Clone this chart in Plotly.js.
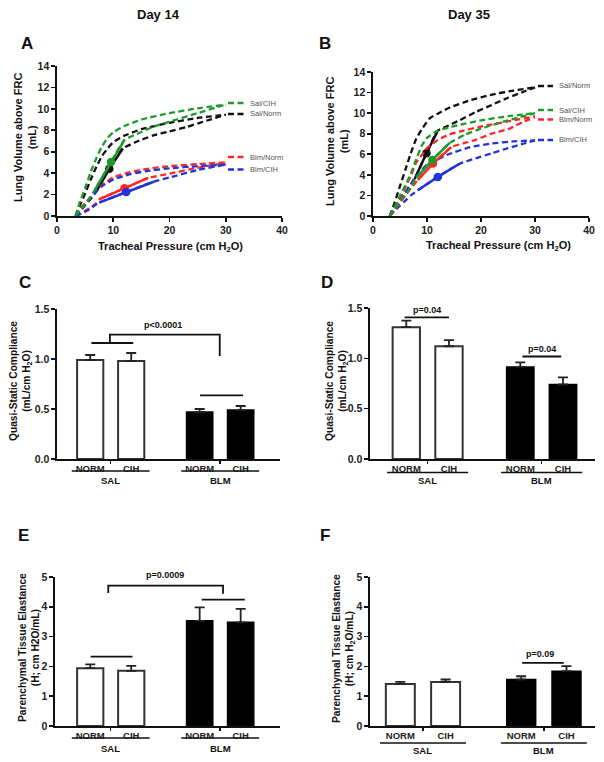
<!DOCTYPE html>
<html>
<head>
<meta charset="utf-8">
<script src="https://cdn.plot.ly/plotly-3.0.1.min.js"></script>
<style>html,body{margin:0;padding:0;background:#fff;}#chart{width:604px;height:762px;}</style>
</head>
<body>
<div id="chart"></div>
<script>
// ---------------- DATA ----------------
// Panel A (Day 14) pressure-volume curves: P = tracheal pressure (cm H2O), V = lung volume above FRC (mL)
const A_SalNorm_defl_P = [3.3,4,5,6,7,8,9,10,12,15,20,25,30];
const A_SalNorm_defl_V = [0,0.9,2.1,3.4,4.6,5.6,6.3,6.9,7.5,8.1,8.7,9.15,9.45];
const A_SalNorm_infl_P = [3.3,4,5,6,7,9.3,11.7,14,17,20,23,26,30];
const A_SalNorm_infl_V = [0,0.4,1.0,1.6,2.3,4.4,6.3,6.9,7.5,7.9,8.3,8.8,9.45];
const A_SalNorm_slope_P = [7,9.3,11.7];
const A_SalNorm_slope_V = [2.3,4.4,6.3];

const A_SalCIH_defl_P = [3.3,4,5,6,7,8,9,10,12,15,20,25,30];
const A_SalCIH_defl_V = [0,1.2,2.6,4.1,5.4,6.5,7.3,7.8,8.4,9.0,9.6,10.05,10.4];
const A_SalCIH_infl_P = [3.3,4,5,6,6.8,9.6,12,14,17,20,25,30];
const A_SalCIH_infl_V = [0,0.5,1.1,1.8,2.5,5.05,7.1,7.6,8.3,8.8,9.6,10.4];
const A_SalCIH_slope_P = [6.8,9.6,12];
const A_SalCIH_slope_V = [2.5,5.05,7.1];

const A_BlmNorm_defl_P = [3.3,4,5,6,7,8,10,13,16,20,25,30];
const A_BlmNorm_defl_V = [0,0.6,1.2,1.8,2.4,2.9,3.6,4.1,4.4,4.65,4.85,5.0];
const A_BlmNorm_infl_P = [3.3,4,5,6,7,7.5,12,16.2,20,25,30];
const A_BlmNorm_infl_V = [0,0.2,0.5,0.8,1.2,1.55,2.6,3.55,3.95,4.5,4.95];
const A_BlmNorm_slope_P = [7.5,12,16.2];
const A_BlmNorm_slope_V = [1.55,2.6,3.55];

const A_BlmCIH_defl_P = [3.3,4,5,6,7,8,10,13,16,20,25,30];
const A_BlmCIH_defl_V = [0,0.5,1.1,1.7,2.3,2.8,3.4,3.9,4.2,4.45,4.65,4.8];
const A_BlmCIH_infl_P = [3.3,4,5,6,7,7.5,12.3,17.2,20,25,30];
const A_BlmCIH_infl_V = [0,0.15,0.4,0.7,1.1,1.25,2.25,3.2,3.6,4.3,4.8];
const A_BlmCIH_slope_P = [7.5,12.3,17.2];
const A_BlmCIH_slope_V = [1.25,2.25,3.2];

// Panel B (Day 35)
const B_SalNorm_defl_P = [3.1,4,5,6,7,8,9,10.5,12,14,18,22,26,30];
const B_SalNorm_defl_V = [0,1.3,2.9,4.5,6.1,7.5,8.4,9.5,9.95,10.5,11.25,11.8,12.2,12.5];
const B_SalNorm_infl_P = [3.1,4,5,6,7.7,9.9,12,14,16,19,22,25,28,30];
const B_SalNorm_infl_V = [0,0.8,1.6,2.3,3.6,6.1,8.3,8.8,9.3,10.1,10.8,11.5,12.1,12.5];
const B_SalNorm_slope_P = [7.7,9.9,12];
const B_SalNorm_slope_V = [3.6,6.1,8.3];

const B_SalCIH_defl_P = [3.1,4,5,6,7,8,9,10,12,14,16,20,25,30];
const B_SalCIH_defl_V = [0,0.9,2.0,3.0,4.1,5.5,6.8,7.6,8.3,8.6,8.85,9.3,9.7,10.0];
const B_SalCIH_infl_P = [3.1,4,5,6,7,8,11,14.2,17,20,25,30];
const B_SalCIH_infl_V = [0,0.7,1.4,2.1,2.8,3.7,5.45,7.1,7.9,8.5,9.3,10.0];
const B_SalCIH_slope_P = [8,11,14.2];
const B_SalCIH_slope_V = [3.7,5.45,7.1];

const B_BlmNorm_defl_P = [3.1,4,5,6,7,8,9,10,12,14,16,20,25,30];
const B_BlmNorm_defl_V = [0,0.8,1.8,2.8,3.9,5.2,5.9,6.6,7.4,7.9,8.2,8.7,9.2,9.7];
const B_BlmNorm_infl_P = [3.1,4,5,6,7,8.3,11.1,14.5,17,19,22,25.3,28,30];
const B_BlmNorm_infl_V = [0,0.6,1.3,2.0,2.7,3.5,5.1,6.7,7.1,7.4,8.0,8.5,9.2,9.6];
const B_BlmNorm_slope_P = [8.3,11.1,14.5];
const B_BlmNorm_slope_V = [3.5,5.1,6.7];

const B_BlmCIH_defl_P = [3.1,4,5,6,7,8,10,12,14,18,22,26,30];
const B_BlmCIH_defl_V = [0,0.7,1.5,2.3,3.1,3.9,5.0,5.5,6.0,6.7,7.05,7.25,7.35];
const B_BlmCIH_infl_P = [3.1,4,5,6,7,8.3,12,16.1,19,22,25,28,30];
const B_BlmCIH_infl_V = [0,0.5,1.0,1.5,2.0,2.5,3.8,5.1,5.6,6.1,6.6,7.05,7.35];
const B_BlmCIH_slope_P = [8.3,12,16.1];
const B_BlmCIH_slope_V = [2.5,3.8,5.1];

const curveLabels = ['Sal/Norm','Sal/CIH','Blm/Norm','Blm/CIH'];

// Bar panels: categories & values (mean, SEM)
const barLabels = ['NORM','CIH','NORM','CIH'];
const groupLabels = ['SAL','BLM'];
const barPos = [0,1,2.67,3.67];

const C_sal = [0.99,0.98];  const C_sal_err = [0.05,0.08];
const C_blm = [0.47,0.49];  const C_blm_err = [0.03,0.04];
const D_sal = [1.31,1.12];  const D_sal_err = [0.065,0.06];
const D_blm = [0.915,0.74]; const D_blm_err = [0.045,0.07];
const E_sal = [1.94,1.85];  const E_sal_err = [0.13,0.17];
const E_blm = [3.53,3.48];  const E_blm_err = [0.45,0.45];
const F_sal = [1.41,1.48];  const F_sal_err = [0.07,0.08];
const F_blm = [1.56,1.84];  const F_blm_err = [0.11,0.17];

// ---------------- STYLE ----------------
const FONT = 'Liberation Sans, Arial, Helvetica, sans-serif';
const W = 604, H = 762;
const px = v => v / W;
const py = v => 1 - v / H;
const COL = {SalNorm:'#111111', SalCIH:'#1f9a2a', BlmNorm:'#ff2626', BlmCIH:'#2233d8'};
const DASH = '6px,3.5px';

const traces = [];
function pvGroup(xa, ya, col, dP, dV, iP, iV, sP, sV) {
  const dash = {color: col, width: 2.3, dash: DASH, shape: 'spline', smoothing: 0.45};
  traces.push({x: dP, y: dV, xaxis: xa, yaxis: ya, mode: 'lines', line: dash, hoverinfo: 'skip'});
  traces.push({x: iP, y: iV, xaxis: xa, yaxis: ya, mode: 'lines', line: dash, hoverinfo: 'skip'});
  traces.push({x: sP, y: sV, xaxis: xa, yaxis: ya, mode: 'lines', line: {color: col, width: 2.5}, hoverinfo: 'skip'});
  traces.push({x: [sP[1]], y: [sV[1]], xaxis: xa, yaxis: ya, mode: 'markers', marker: {color: col, size: 8.5}, hoverinfo: 'skip'});
}
pvGroup('x','y',COL.SalNorm,A_SalNorm_defl_P,A_SalNorm_defl_V,A_SalNorm_infl_P,A_SalNorm_infl_V,A_SalNorm_slope_P,A_SalNorm_slope_V);
pvGroup('x','y',COL.BlmNorm,A_BlmNorm_defl_P,A_BlmNorm_defl_V,A_BlmNorm_infl_P,A_BlmNorm_infl_V,A_BlmNorm_slope_P,A_BlmNorm_slope_V);
pvGroup('x','y',COL.BlmCIH,A_BlmCIH_defl_P,A_BlmCIH_defl_V,A_BlmCIH_infl_P,A_BlmCIH_infl_V,A_BlmCIH_slope_P,A_BlmCIH_slope_V);
pvGroup('x','y',COL.SalCIH,A_SalCIH_defl_P,A_SalCIH_defl_V,A_SalCIH_infl_P,A_SalCIH_infl_V,A_SalCIH_slope_P,A_SalCIH_slope_V);

pvGroup('x2','y2',COL.SalNorm,B_SalNorm_defl_P,B_SalNorm_defl_V,B_SalNorm_infl_P,B_SalNorm_infl_V,B_SalNorm_slope_P,B_SalNorm_slope_V);
pvGroup('x2','y2',COL.BlmCIH,B_BlmCIH_defl_P,B_BlmCIH_defl_V,B_BlmCIH_infl_P,B_BlmCIH_infl_V,B_BlmCIH_slope_P,B_BlmCIH_slope_V);
pvGroup('x2','y2',COL.BlmNorm,B_BlmNorm_defl_P,B_BlmNorm_defl_V,B_BlmNorm_infl_P,B_BlmNorm_infl_V,B_BlmNorm_slope_P,B_BlmNorm_slope_V);
pvGroup('x2','y2',COL.SalCIH,B_SalCIH_defl_P,B_SalCIH_defl_V,B_SalCIH_infl_P,B_SalCIH_infl_V,B_SalCIH_slope_P,B_SalCIH_slope_V);

function barPanel(xa, ya, sal, salErr, blm, blmErr) {
  const eb = (arr) => ({type: 'data', array: arr, arrayminus: arr.map(() => 0), symmetric: false,
                        color: '#222', thickness: 1.8, width: 5});
  traces.push({type: 'bar', x: barPos.slice(0,2), y: sal, width: 0.64, xaxis: xa, yaxis: ya,
               marker: {color: '#ffffff', line: {color: '#333', width: 2}}, error_y: eb(salErr), hoverinfo: 'skip'});
  traces.push({type: 'bar', x: barPos.slice(2), y: blm, width: 0.64, xaxis: xa, yaxis: ya,
               marker: {color: '#000000', line: {color: '#000', width: 1.5}}, error_y: eb(blmErr), hoverinfo: 'skip'});
}
barPanel('x3','y3',C_sal,C_sal_err,C_blm,C_blm_err);
barPanel('x4','y4',D_sal,D_sal_err,D_blm,D_blm_err);
barPanel('x5','y5',E_sal,E_sal_err,E_blm,E_blm_err);
barPanel('x6','y6',F_sal,F_sal_err,F_blm,F_blm_err);

// ---------------- LAYOUT ----------------
function ax(extra) {
  return Object.assign({showline: true, linecolor: '#111', linewidth: 1.6, ticks: 'outside', ticklen: 4,
    tickwidth: 1.6, tickcolor: '#111', showgrid: false, zeroline: false, fixedrange: true,
    tickfont: {size: 10.5, family: FONT, weight: 'bold', color: '#222'}}, extra);
}
const grpCenters = [(barPos[0]+barPos[1])/2, (barPos[2]+barPos[3])/2];
function barX(anchor, domain, range) {
  return ax({anchor: anchor, domain: domain, range: range, tickmode: 'array', tickvals: barPos, ticktext: barLabels,
    ticks: '', tickfont: {size: 9.5, family: FONT, weight: 'bold', color: '#222'},
    minor: {tickmode: 'array', tickvals: grpCenters, ticks: 'outside', ticklen: 3, tickwidth: 1.5, tickcolor: '#111'}});
}

const layout = {
  width: W, height: H, margin: {l: 0, r: 0, t: 0, b: 0},
  paper_bgcolor: '#fff', plot_bgcolor: 'rgba(0,0,0,0)', showlegend: false, barmode: 'overlay',
  font: {family: FONT, color: '#111'},
  xaxis: ax({anchor: 'y', domain: [px(57), px(282)], range: [0, 40], tickvals: [0,10,20,30,40]}),
  yaxis: ax({anchor: 'x', domain: [py(216), py(66)], range: [0, 14], tickvals: [0,2,4,6,8,10,12,14]}),
  xaxis2: ax({anchor: 'y2', domain: [px(373), px(589)], range: [0, 40], tickvals: [0,10,20,30,40]}),
  yaxis2: ax({anchor: 'x2', domain: [py(216), py(72)], range: [0, 14], tickvals: [0,2,4,6,8,10,12,14]}),
  xaxis3: barX('y3', [px(57), px(280)], [-0.81, 4.63]),
  yaxis3: ax({anchor: 'x3', domain: [py(459), py(309)], range: [0, 1.5], tickvals: [0,0.5,1,1.5], tickformat: '.1f'}),
  xaxis4: barX('y4', [px(370), px(595)], [-0.85, 4.42]),
  yaxis4: ax({anchor: 'x4', domain: [py(459), py(308)], range: [0, 1.5], tickvals: [0,0.5,1,1.5], tickformat: '.1f'}),
  xaxis5: barX('y5', [px(55), px(280)], [-0.86, 4.63]),
  yaxis5: ax({anchor: 'x5', domain: [py(726), py(577)], range: [0, 5], tickvals: [0,1,2,3,4,5]}),
  xaxis6: barX('y6', [px(370), px(595)], [-0.67, 4.3]),
  yaxis6: ax({anchor: 'x6', domain: [py(726), py(577)], range: [0, 5], tickvals: [0,1,2,3,4,5]}),
  shapes: [], annotations: []
};

const A = layout.annotations, S = layout.shapes;
function txt(x, y, text, size, opts) {
  A.push(Object.assign({xref: 'paper', yref: 'paper', x: px(x), y: py(y), text: text, showarrow: false,
    xanchor: 'center', yanchor: 'middle', font: {family: FONT, size: size, weight: 'bold', color: '#111'}}, opts || {}));
}
// Column titles and panel letters
txt(158, 15, 'Day 14', 13);
txt(469, 15, 'Day 35', 13);
[['A',27,43],['B',325,43],['C',25,283],['D',327,283],['E',23,535],['F',325,535]].forEach(l => txt(l[1], l[2], l[0], 17));
// Axis titles
txt(25, 138, 'Lung Volume above FRC<br>(mL)', 11, {textangle: -90});
txt(337, 142, 'Lung Volume above FRC<br>(mL)', 11, {textangle: -90});
txt(170, 247, 'Tracheal Pressure (cm H<sub>2</sub>O)', 11);
txt(499, 246, 'Tracheal Pressure (cm H<sub>2</sub>O)', 11);
txt(21, 381, 'Quasi-Static Compliance<br>(mL/cm H<sub>2</sub>O)', 10.2, {textangle: -90});
txt(337, 381, 'Quasi-Static Compliance<br>(mL/cm H<sub>2</sub>O)', 10.2, {textangle: -90});
txt(29, 648, 'Parenchymal Tissue Elastance<br>(H; cm H2O/mL)', 10.2, {textangle: -90});
txt(344, 649, 'Parenchymal Tissue Elastance<br>(H; cm H<sub>2</sub>O/mL)', 10.2, {textangle: -90});

// Curve legends (dash + label)
function legend(x0, x1, y, col, label) {
  S.push({type: 'line', xref: 'paper', yref: 'paper', x0: px(x0), x1: px(x1), y0: py(y), y1: py(y),
    line: {color: col, width: 2.3, dash: DASH}});
  txt(x1 + 4, y, label, 7.5, {xanchor: 'left', font: {family: FONT, size: 7.5, color: '#555'}});
}
legend(228, 244, 103, COL.SalCIH, curveLabels[1]);
legend(228, 244, 114, COL.SalNorm, curveLabels[0]);
legend(228, 244, 157, COL.BlmNorm, curveLabels[2]);
legend(228, 244, 169.5, COL.BlmCIH, curveLabels[3]);
legend(538, 553, 86, COL.SalNorm, curveLabels[0]);
legend(538, 553, 110, COL.SalCIH, curveLabels[1]);
legend(538, 553, 119.5, COL.BlmNorm, curveLabels[2]);
legend(538, 553, 140, COL.BlmCIH, curveLabels[3]);

// Group underline + group labels for bar panels
function groups(xa, lineY, labY) {
  grpCenters.forEach((c, i) => {
    S.push({type: 'line', xref: xa, yref: 'paper', x0: c - 0.95, x1: c + 0.95, y0: py(lineY), y1: py(lineY),
      line: {color: '#111', width: 1.6}});
    A.push({xref: xa, yref: 'paper', x: c, y: py(labY), text: groupLabels[i], showarrow: false,
      xanchor: 'center', yanchor: 'middle', font: {family: FONT, size: 9.5, weight: 'bold', color: '#111'}});
  });
}
groups('x3', 471, 480.5);
groups('x4', 472.5, 480.5);
groups('x5', 738, 748);
groups('x6', 743, 750.5);

// Significance marks
function hline(xa, ya, x0, x1, y) {
  S.push({type: 'line', xref: xa, yref: ya, x0: x0, x1: x1, y0: y, y1: y, line: {color: '#111', width: 1.8}});
}
function bracket(xa, ya, xL, yL, yTop, xR, yR) {
  S.push({type: 'path', xref: xa, yref: ya, path: `M ${xL},${yL} L ${xL},${yTop} L ${xR},${yTop} L ${xR},${yR}`,
    line: {color: '#111', width: 1.8}});
}
function ptxt(xa, ya, x, y, t) {
  A.push({xref: xa, yref: ya, x: x, y: y, text: t, showarrow: false, xanchor: 'center', yanchor: 'middle',
    font: {family: FONT, size: 9, weight: 'bold', color: '#111'}});
}
// C
hline('x3','y3', 0.03, 1.05, 1.16);
hline('x3','y3', 2.68, 3.73, 0.637);
bracket('x3','y3', 0.48, 1.16, 1.243, 3.16, 1.03);
ptxt('x3','y3', 1.78, 1.34, 'p&lt;0.0001');
// D
hline('x4','y4', -0.04, 1.0, 1.407);
ptxt('x4','y4', 0.48, 1.48, 'p=0.04');
hline('x4','y4', 2.72, 3.63, 1.018);
ptxt('x4','y4', 3.17, 1.094, 'p=0.04');
// E (label sits above the axis range, so place it in paper coordinates)
hline('x5','y5', 0.01, 1.03, 2.33);
hline('x5','y5', 2.72, 3.77, 4.24);
bracket('x5','y5', 0.44, 4.46, 4.71, 3.24, 4.44);
A.push({xref: 'x5', yref: 'paper', x: 1.82, y: py(575), text: 'p=0.0009', showarrow: false,
  xanchor: 'center', yanchor: 'middle', font: {family: FONT, size: 9, weight: 'bold', color: '#111'}});
// F
hline('x6','y6', 2.69, 3.61, 2.12);
ptxt('x6','y6', 3.09, 2.4, 'p=0.09');

Plotly.newPlot('chart', traces, layout, {staticPlot: true, displayModeBar: false});
</script>
</body>
</html>
